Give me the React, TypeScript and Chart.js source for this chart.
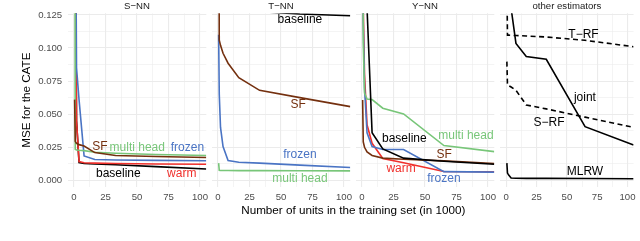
import React, { useEffect, useRef } from 'react';
import { Chart, registerables } from 'chart.js';

Chart.register(...registerables);

// ---------------- data ----------------
const trainSizes = [0.5, 1, 2, 4, 8, 16.5, 33, 65, 105];
const xTickValues = [0, 25, 50, 75, 100];
const yTickValues = [0, 0.025, 0.05, 0.075, 0.1, 0.125];
const panelTitles = ['S\u2212NN', 'T\u2212NN', 'Y\u2212NN', 'other estimators'];
const xAxisTitle = 'Number of units in the training set (in 1000)';
const yAxisTitle = 'MSE for the CATE';

// S-NN
const snnBaseline = [0.5, 0.2, 0.045, 0.0135, 0.0127, 0.0124, 0.0118, 0.0104, 0.0086];
const snnSF = [0.061, 0.0295, 0.028, 0.027, 0.026, 0.021, 0.0188, 0.018, 0.0173];
const snnMultiHead = [0.3, 0.0235, 0.023, 0.0228, 0.0225, 0.0213, 0.0205, 0.0196, 0.0188];
const snnFrozen = [0.6, 0.25, 0.085, 0.061, 0.0185, 0.0158, 0.0154, 0.0151, 0.0148];
const snnWarm = [0.5, 0.2, 0.045, 0.0142, 0.0133, 0.013, 0.0127, 0.0124, 0.0122];

// T-NN
const tnnBaseline = [1.2, 0.8, 0.5, 0.3, 0.2, 0.15, 0.1275, 0.1257, 0.1244];
const tnnSF = [0.25, 0.106, 0.102, 0.096, 0.0885, 0.0776, 0.068, 0.0625, 0.0557];
const tnnMultiHead = [0.013, 0.0076, 0.0075, 0.0075, 0.0075, 0.0074, 0.0074, 0.0073, 0.0072];
const tnnFrozen = [0.11, 0.065, 0.04, 0.0255, 0.015, 0.0137, 0.013, 0.0115, 0.0097];

// Y-NN
const ynnBaseline = [0.6, 0.4, 0.25, 0.13, 0.036, 0.0238, 0.0168, 0.0145, 0.0122];
const ynnSF = [0.0607, 0.029, 0.025, 0.0215, 0.0188, 0.0168, 0.016, 0.0147, 0.0128];
const ynnMultiHead = [0.3, 0.104, 0.066, 0.0615, 0.061, 0.0545, 0.0502, 0.0263, 0.0217];
const ynnFrozen = [0.6, 0.12, 0.07, 0.036, 0.0255, 0.0233, 0.0233, 0.0066, 0.0062];
const ynnWarm = [0.5, 0.13, 0.08, 0.042, 0.028, 0.0165, 0.0133, 0.0067, 0.0065];

// other estimators
const otherTRF = [0.15, 0.1097, 0.1097, 0.1096, 0.1094, 0.1091, 0.1083, 0.1058, 0.101];
const otherSRF = [0.0897, 0.072, 0.0715, 0.0705, 0.068, 0.057, 0.054, 0.0478, 0.0401];
const otherJoint = [0.5, 0.4, 0.25, 0.13, 0.1035, 0.0935, 0.0915, 0.0406, 0.0268];
const otherMLRW = [0.013, 0.0055, 0.004, 0.0018, 0.0016, 0.0015, 0.0015, 0.0014, 0.0012];

// ---------------- styles ----------------
const COLORS = {
  baseline: '#000000',
  SF: '#74300f',
  multi: '#78c679',
  frozen: '#4a74c4',
  warm: '#f0302c',
};
const FONT = '"Liberation Sans", Arial, Helvetica, sans-serif';

type Series = { data: number[]; color: string; dash?: number[] };
type Label = { text: string; x: number; y: number; color: string };

// series listed top-most first (Chart.js draws dataset 0 last)
const panels: { title: string; series: Series[]; labels: Label[] }[] = [
  {
    title: panelTitles[0],
    series: [
      { data: snnSF, color: COLORS.SF },
      { data: snnMultiHead, color: COLORS.multi },
      { data: snnFrozen, color: COLORS.frozen },
      { data: snnWarm, color: COLORS.warm },
      { data: snnBaseline, color: COLORS.baseline },
    ],
    labels: [
      { text: 'SF', x: 20.6, y: 0.0255, color: COLORS.SF },
      { text: 'multi head', x: 50.2, y: 0.025, color: COLORS.multi },
      { text: 'frozen', x: 90, y: 0.025, color: COLORS.frozen },
      { text: 'baseline', x: 35.2, y: 0.0049, color: COLORS.baseline },
      { text: 'warm', x: 85.5, y: 0.0049, color: COLORS.warm },
    ],
  },
  {
    title: panelTitles[1],
    series: [
      { data: tnnBaseline, color: COLORS.baseline },
      { data: tnnSF, color: COLORS.SF },
      { data: tnnFrozen, color: COLORS.frozen },
      { data: tnnMultiHead, color: COLORS.multi },
    ],
    labels: [
      { text: 'baseline', x: 65, y: 0.1211, color: COLORS.baseline },
      { text: 'SF', x: 63.7, y: 0.057, color: COLORS.SF },
      { text: 'frozen', x: 65, y: 0.0192, color: COLORS.frozen },
      { text: 'multi head', x: 65, y: 0.0011, color: COLORS.multi },
    ],
  },
  {
    title: panelTitles[2],
    series: [
      { data: ynnBaseline, color: COLORS.baseline },
      { data: ynnSF, color: COLORS.SF },
      { data: ynnMultiHead, color: COLORS.multi },
      { data: ynnFrozen, color: COLORS.frozen },
      { data: ynnWarm, color: COLORS.warm },
    ],
    labels: [
      { text: 'baseline', x: 33.6, y: 0.0318, color: COLORS.baseline },
      { text: 'multi head', x: 82.5, y: 0.0338, color: COLORS.multi },
      { text: 'SF', x: 65.3, y: 0.0192, color: COLORS.SF },
      { text: 'warm', x: 31, y: 0.0087, color: COLORS.warm },
      { text: 'frozen', x: 65, y: 0.0011, color: COLORS.frozen },
    ],
  },
  {
    title: panelTitles[3],
    series: [
      { data: otherTRF, color: '#000000', dash: [5, 3.5] },
      { data: otherSRF, color: '#000000', dash: [5, 3.5] },
      { data: otherJoint, color: '#000000' },
      { data: otherMLRW, color: '#000000' },
    ],
    labels: [
      { text: 'T\u2212RF', x: 63.7, y: 0.1103, color: '#000000' },
      { text: 'joint', x: 64.9, y: 0.0625, color: '#000000' },
      { text: 'S\u2212RF', x: 35.3, y: 0.0436, color: '#000000' },
      { text: 'MLRW', x: 64.9, y: 0.0066, color: '#000000' },
    ],
  },
];

// ---------------- layout ----------------
const W = 640;
const H = 241;
const PANEL_LEFT = [67.7, 211.7, 355.7, 500.2];
const PANEL_WIDTH = 138.6;
const PLOT_BOTTOM = 187;
const X_MIN = -5;
const X_MAX = 105;
const Y_MIN = -0.005;
const Y_MAX = 0.1262;
const GRID_COLOR = '#ebebeb';

const isMajor = (v: number, step: number) => Math.abs(v / step - Math.round(v / step)) < 1e-6;

function buildConfig(i: number): any {
  const panel = panels[i];
  const first = i === 0;
  const xTicksAll: number[] = [];
  xTickValues.forEach((v, k) => {
    xTicksAll.push(v);
    if (k < xTickValues.length - 1) xTicksAll.push((v + xTickValues[k + 1]) / 2);
  });
  const yTicksAll: number[] = [];
  yTickValues.forEach((v, k) => {
    yTicksAll.push(v);
    if (k < yTickValues.length - 1) yTicksAll.push((v + yTickValues[k + 1]) / 2);
  });

  const labelPlugin = {
    id: 'lineLabels' + i,
    afterDatasetsDraw(chart: any) {
      const { ctx, scales } = chart;
      ctx.save();
      ctx.font = `12px ${FONT}`;
      ctx.textAlign = 'center';
      ctx.textBaseline = 'middle';
      panel.labels.forEach((l) => {
        ctx.fillStyle = l.color;
        ctx.fillText(l.text, scales.x.getPixelForValue(l.x), scales.y.getPixelForValue(l.y));
      });
      if (first) {
        ctx.fillStyle = '#000000';
        ctx.font = `11.7px ${FONT}`;
        ctx.fillText(xAxisTitle, (PANEL_LEFT[0] + PANEL_LEFT[3] + PANEL_WIDTH) / 2, 211);
      }
      ctx.restore();
    },
  };

  return {
    type: 'line',
    data: {
      datasets: panel.series.map((s) => ({
        data: trainSizes.map((x, j) => ({ x, y: s.data[j] })),
        borderColor: s.color,
        borderWidth: 1.6,
        borderDash: s.dash || [],
        pointRadius: 0,
        tension: 0,
        fill: false,
      })),
    },
    options: {
      responsive: false,
      animation: false,
      devicePixelRatio: 1,
      events: [],
      layout: {
        padding: {
          left: first ? 0 : PANEL_LEFT[i],
          right: W - PANEL_LEFT[i] - PANEL_WIDTH,
          top: 0,
          bottom: 0,
        },
      },
      plugins: {
        legend: { display: false },
        tooltip: { enabled: false },
        title: {
          display: true,
          text: panel.title,
          fullSize: false,
          color: '#1a1a1a',
          font: { family: FONT, size: 9.6, weight: 'normal' },
          padding: { top: 0.5, bottom: 1.3 },
        },
      },
      scales: {
        x: {
          type: 'linear',
          min: X_MIN,
          max: X_MAX,
          afterBuildTicks: (s: any) => {
            s.ticks = xTicksAll.map((v) => ({ value: v }));
          },
          afterFit: (s: any) => {
            s.height = H - PLOT_BOTTOM;
          },
          ticks: {
            autoSkip: false,
            maxRotation: 0,
            padding: 4.2,
            color: '#4d4d4d',
            font: { family: FONT, size: 9.6 },
            callback: (v: number) => (isMajor(v, 25) ? String(v) : ''),
          },
          grid: {
            drawTicks: false,
            color: GRID_COLOR,
            lineWidth: (c: any) => (c.tick && isMajor(c.tick.value, 25) ? 1.1 : 0.55),
          },
          border: { display: false },
        },
        y: {
          type: 'linear',
          min: Y_MIN,
          max: Y_MAX,
          afterBuildTicks: (s: any) => {
            s.ticks = yTicksAll.map((v) => ({ value: v }));
          },
          afterFit: (s: any) => {
            s.width = first ? PANEL_LEFT[0] : 0;
          },
          ticks: {
            display: first,
            autoSkip: false,
            padding: 5.5,
            color: '#4d4d4d',
            font: { family: FONT, size: 9.6 },
            callback: (v: number) => (isMajor(v, 0.025) ? v.toFixed(3) : ''),
          },
          grid: {
            drawTicks: false,
            color: GRID_COLOR,
            lineWidth: (c: any) => (c.tick && isMajor(c.tick.value, 0.025) ? 1.1 : 0.55),
          },
          border: { display: false },
          title: {
            display: first,
            text: yAxisTitle,
            color: '#000000',
            font: { family: FONT, size: 11.7 },
            padding: { top: 20, bottom: 0 },
          },
        },
      },
    },
    plugins: [labelPlugin],
  };
}

function PanelChart({ index }: { index: number }) {
  const ref = useRef<HTMLCanvasElement | null>(null);
  useEffect(() => {
    if (!ref.current) return;
    const chart = new Chart(ref.current, buildConfig(index));
    return () => chart.destroy();
  }, [index]);
  return (
    <canvas
      ref={ref}
      width={W}
      height={H}
      style={{ position: 'absolute', left: 0, top: 0, width: W, height: H }}
    />
  );
}

export default function App() {
  return (
    <div
      style={{
        position: 'absolute',
        left: 0,
        top: 0,
        width: W,
        height: H,
        background: '#ffffff',
        overflow: 'hidden',
      }}
    >
      {panels.map((_, i) => (
        <PanelChart key={i} index={i} />
      ))}
    </div>
  );
}
